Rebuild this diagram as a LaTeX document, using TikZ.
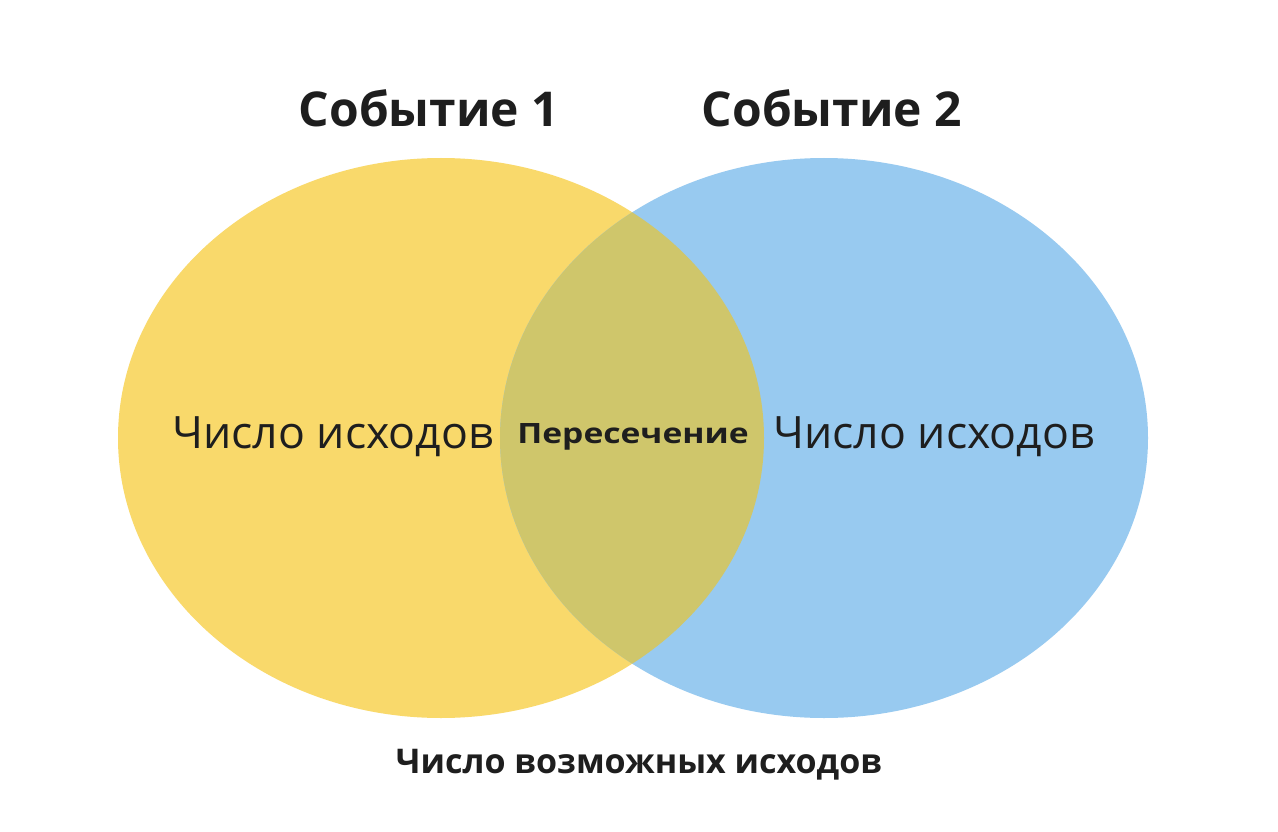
\documentclass[tikz,border=0pt]{standalone}
\usepackage{fontspec}
\usepackage{graphicx}
\setmainfont{Open Sans}
\definecolor{yel}{HTML}{F9D96B}
\definecolor{blu}{HTML}{98CAF0}
\definecolor{ovl}{HTML}{CFC66B}
\definecolor{txt}{HTML}{1E1E1E}
\begin{document}
\begin{tikzpicture}[x=1pt,y=-1pt,
  title/.style={font=\bfseries\fontsize{48}{56}\selectfont, text=txt, inner sep=0pt},
  lbl/.style={font=\fontsize{44.6}{52}\selectfont, text=txt, inner sep=0pt},
  mid/.style={font=\bfseries\fontsize{28}{32}\selectfont, text=txt, inner sep=0pt},
  foot/.style={font=\bfseries\fontsize{34}{40}\selectfont, text=txt, inner sep=0pt}]
\useasboundingbox (0,0) rectangle (1278,832);
\fill[white] (0,0) rectangle (1278,832);
\fill[yel] (441,438) ellipse [x radius=323, y radius=280];
\fill[blu] (824,438) ellipse [x radius=324, y radius=280];
\begin{scope}
  \clip (441,438) ellipse [x radius=323, y radius=280];
  \fill[ovl] (824,438) ellipse [x radius=324, y radius=280];
\end{scope}
\node[title] (t1) at (429,108) {Событие 1};
\node[title] (t2) at (832,108) {Событие 2};
\node[lbl] (l1) at (333,437) {Число исходов};
\node[mid] (m) at (633,437) {\scalebox{1.2}[1]{Пересечение}};
\node[lbl] (l2) at (934,437) {Число исходов};
\node[foot] (f) at (639,765) {Число возможных исходов};
\end{tikzpicture}
\end{document}
